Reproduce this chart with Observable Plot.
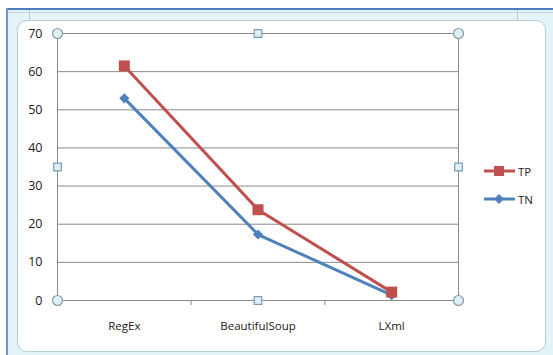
<!DOCTYPE html>
<html>
<head>
<meta charset="utf-8">
<script src="https://cdn.jsdelivr.net/npm/d3@7"></script>
<script src="https://cdn.jsdelivr.net/npm/@observablehq/plot@0.6"></script>
<style>
  html, body { margin: 0; padding: 0; background: #ffffff; }
  #wrap { position: relative; width: 553px; height: 355px; overflow: hidden; background: #ffffff; font-family: "Open Sans", sans-serif; }
  .abs { position: absolute; }
  #legend { position: absolute; left: 484px; top: 157px; font-size: 11.5px; color: #222; }
  #legend .row { display: flex; align-items: center; height: 28px; }
  #legend span { margin-left: 3px; }
</style>
</head>
<body>
<div id="wrap">
  <div class="abs" style="left:6px;top:8px;width:547px;height:2px;background:#4a7ebb"></div>
  <div class="abs" style="left:6px;top:8px;width:2px;height:347px;background:#6f97c8"></div>
  <div class="abs" style="left:8px;top:10px;width:545px;height:345px;background:#e4f3f8"></div>
  <div class="abs" style="left:8px;top:12px;width:545px;height:1px;background:#c2d8e0"></div>
  <div class="abs" style="left:29px;top:10px;width:1px;height:10px;background:#b8ccd4"></div>
  <div class="abs" style="left:517px;top:10px;width:1px;height:10px;background:#b8ccd4"></div>
  <div class="abs" style="left:17px;top:20px;width:527px;height:330px;background:#ffffff;border:1px solid #b9cbd3;border-radius:10px"></div>
  <div id="chart" class="abs" style="left:0;top:0"></div>
  <div id="legend"></div>
</div>
<script>
const categories = ["RegEx", "BeautifulSoup", "LXml"];
const tpValues = [61.5, 23.8, 2.2];
const tnValues = [53, 17.3, 1.4];
const yTicks = [0, 10, 20, 30, 40, 50, 60, 70];
const seriesNames = ["TP", "TN"];
const seriesColors = ["#c0504d", "#4f81bd"];

const tp = categories.map((c, i) => ({i, v: tpValues[i]}));
const tn = categories.map((c, i) => ({i, v: tnValues[i]}));
const xMin = -0.5, xMax = categories.length - 0.5;
const yMax = yTicks[yTicks.length - 1];
const cornerHandles = [[xMin, 0], [xMin, yMax], [xMax, 0], [xMax, yMax]];
const midHandles = [[(xMin + xMax) / 2, 0], [(xMin + xMax) / 2, yMax], [xMin, yMax / 2], [xMax, yMax / 2]];
const boundaries = categories.slice(1).map((c, i) => i + 0.5);

const chart = Plot.plot({
  width: 553,
  height: 355,
  marginLeft: 57,
  marginRight: 95,
  marginTop: 33,
  marginBottom: 55,
  style: {background: "transparent", fontFamily: "Open Sans, sans-serif", fontSize: "11px", color: "#222"},
  x: {type: "linear", domain: [xMin, xMax]},
  y: {domain: [0, yMax]},
  marks: [
    Plot.gridY(yTicks.filter(d => d > 0), {stroke: "#8a8a8a", strokeOpacity: 1, strokeWidth: 1}),
    Plot.ruleX([xMin, xMax], {stroke: "#8a8a8a", strokeWidth: 1}),
    Plot.ruleY([0], {stroke: "#8a8a8a", strokeWidth: 1}),
    Plot.axisY({ticks: yTicks, tickSize: 0, tickPadding: 15, fontSize: 12.5, fill: "#1a1a1a", label: null}),
    Plot.axisX({ticks: boundaries, tickSize: 5, tickFormat: () => "", stroke: "#8a8a8a", label: null}),
    Plot.axisX({ticks: categories.map((c, i) => i), tickSize: 0, tickPadding: 21, tickFormat: i => categories[i], fontSize: 11.5, fill: "#1a1a1a", label: null}),
    Plot.line(tn, {x: "i", y: "v", stroke: seriesColors[1], strokeWidth: 3}),
    Plot.line(tp, {x: "i", y: "v", stroke: seriesColors[0], strokeWidth: 3}),
    Plot.dot(tn, {x: "i", y: "v", symbol: "diamond2", r: 4.6, fill: seriesColors[1], stroke: "none"}),
    Plot.dot(tp, {x: "i", y: "v", symbol: "square", r: 6.2, fill: seriesColors[0], stroke: "none"}),
    Plot.dot(cornerHandles, {x: d => d[0], y: d => d[1], r: 5, fill: "#dcf0f6", stroke: "#8d9aa3", strokeWidth: 1.2}),
    Plot.dot(midHandles, {x: d => d[0], y: d => d[1], symbol: "square", r: 4.3, fill: "#dcf0f6", stroke: "#7f9bb3", strokeWidth: 1.2})
  ]
});
document.getElementById("chart").appendChild(chart);

const legend = document.getElementById("legend");
const legendSymbols = ["<rect x='10' y='1' width='10' height='10' fill='#c0504d'/>", "<path d='M15 1 L20 6 L15 11 L10 6 Z' fill='#4f81bd'/>"];
seriesNames.forEach((name, k) => {
  const row = document.createElement("div");
  row.className = "row";
  row.innerHTML = `<svg width="31" height="12"><line x1="0" x2="31" y1="6" y2="6" stroke="${seriesColors[k]}" stroke-width="3"/>${legendSymbols[k]}</svg><span>${name}</span>`;
  legend.appendChild(row);
});
</script>
</body>
</html>
